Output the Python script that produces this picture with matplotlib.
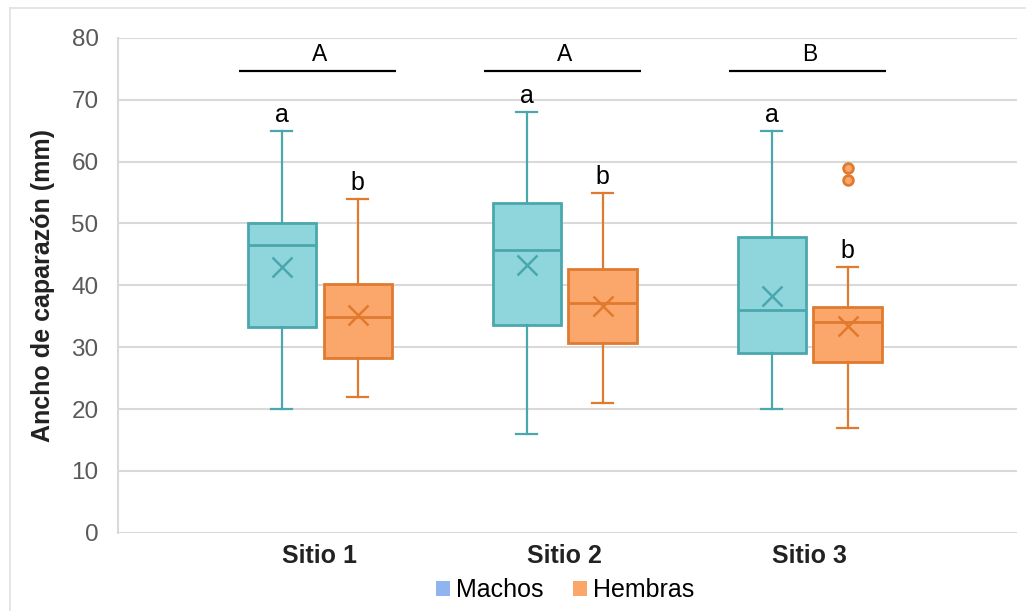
import matplotlib
matplotlib.use("Agg")
import matplotlib.pyplot as plt
from matplotlib.lines import Line2D
from matplotlib.patches import Patch

plt.rcParams["font.family"] = ["Liberation Sans", "DejaVu Sans"]

# data
sites = ["Sitio 1", "Sitio 2", "Sitio 3"]
groups = ["Machos", "Hembras"]

# per site: [Machos, Hembras]
whislo = [[20, 22], [16, 21], [20, 17]]
q1 = [[33.3, 28.3], [33.6, 30.7], [29.1, 27.6]]
med = [[46.5, 34.9], [45.7, 37.2], [36.0, 34.1]]
q3 = [[50.0, 40.2], [53.3, 42.7], [47.8, 36.5]]
whishi = [[65, 54], [68, 55], [65, 43]]
means = [[43.0, 35.2], [43.3, 36.6], [38.3, 33.5]]
fliers = [[[], []], [[], []], [[], [57, 59]]]

group_letters = ["A", "A", "B"]
sex_letters = [["a", "b"], ["a", "b"], ["a", "b"]]

box_fill = ["#8fd5dc", "#fba66a"]
box_edge = ["#4aa7ae", "#e07a2f"]
legend_color = ["#8fb4f0", "#fba66a"]

offset = 0.155
width = 0.28

fig = plt.figure(figsize=(10.26, 6.11), dpi=100)
ax = fig.add_axes([0.115, 0.128, 0.876, 0.810])

for i, site in enumerate(sites):
    for j in range(2):
        pos = i + 1 + (offset if j else -offset)
        st = [{
            "whislo": whislo[i][j], "q1": q1[i][j], "med": med[i][j],
            "q3": q3[i][j], "whishi": whishi[i][j], "mean": means[i][j],
            "fliers": fliers[i][j],
        }]
        ax.bxp(
            st, positions=[pos], widths=width, patch_artist=True,
            showmeans=True, capwidths=0.085,
            boxprops=dict(facecolor=box_fill[j], edgecolor=box_edge[j], linewidth=2),
            medianprops=dict(color=box_edge[j], linewidth=2),
            whiskerprops=dict(color=box_edge[j], linewidth=1.6),
            capprops=dict(color=box_edge[j], linewidth=1.6),
            meanprops=dict(marker="x", markeredgecolor=box_edge[j],
                           markersize=14, markeredgewidth=1.8),
            flierprops=dict(marker="o", markerfacecolor=box_fill[j],
                            markeredgecolor=box_edge[j], markersize=7,
                            markeredgewidth=2),
        )
        ax.text(pos, whishi[i][j] + 0.6, sex_letters[i][j], ha="center",
                va="bottom", fontsize=18, color="black")
    # group bar on top
    ax.plot([i + 1 - 0.33, i + 1 + 0.31], [74.7, 74.7], color="black",
            linewidth=1.6, solid_capstyle="butt")
    ax.text(i + 1, 75.4, group_letters[i], ha="center", va="bottom",
            fontsize=16.5, color="black")

ax.set_xlim(0.176, 3.845)
ax.set_ylim(0, 80)
ax.set_yticks(range(0, 81, 10))
ax.set_xticks([1, 2, 3])
ax.set_xticklabels(sites, fontsize=18, fontweight="bold", color="#222222")
ax.tick_params(axis="y", labelsize=17.5, labelcolor="#595959", length=0, pad=14)
ax.tick_params(axis="x", length=0, pad=8)
ax.grid(axis="y", color="#d9d9d9", linewidth=1.5)
ax.set_axisbelow(True)
for s in ["top", "right", "bottom"]:
    ax.spines[s].set_visible(False)
ax.spines["left"].set_color("#d9d9d9")
ax.spines["left"].set_linewidth(1.5)
ax.set_ylabel("Ancho de caparazón (mm)", fontsize=18, fontweight="bold",
              color="#222222", labelpad=12)

handles = [Patch(facecolor=legend_color[k], edgecolor="none") for k in range(2)]
fig.legend(handles, groups, loc="center", bbox_to_anchor=(0.551, 0.034),
           ncol=2, frameon=False, fontsize=18, handlelength=0.55,
           handleheight=0.55, handletextpad=0.25, columnspacing=1.2)

# light outer frame like the original screenshot
fig.add_artist(Line2D([0.01, 1.0], [0.987, 0.987], color="#e0e0e0", linewidth=1.2))
fig.add_artist(Line2D([0.01, 0.01], [0.0, 0.987], color="#e0e0e0", linewidth=1.2))

fig.savefig("out.png", dpi=100)
